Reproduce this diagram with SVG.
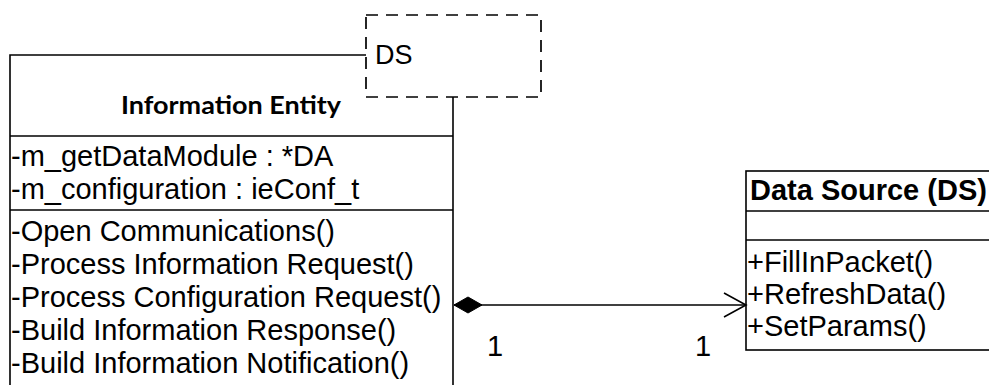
<svg xmlns="http://www.w3.org/2000/svg" width="989" height="385" viewBox="0 0 989 385">
  <style>
    .edge { fill: none; stroke: #000; stroke-width: 1.6; }
    .dash { fill: none; stroke: #000; stroke-width: 1.7; stroke-dasharray: 12 8; }
    .txt { font-family: "Liberation Sans", Arial, sans-serif; font-size: 29px; fill: #000; }
    .bold { font-weight: bold; }
    .cal { font-family: Lato, "Open Sans", sans-serif; font-weight: bold; font-size: 25px; fill: #000; }
  </style>
  <defs>
    <marker id="open-arrow" markerWidth="26" markerHeight="28" refX="23" refY="13" orient="auto" markerUnits="userSpaceOnUse">
      <path d="M1,1 L23,13 L1,25" fill="none" stroke="#000" stroke-width="1.6"/>
    </marker>
    <marker id="filled-diamond" markerWidth="32" markerHeight="20" refX="1" refY="9" orient="auto" markerUnits="userSpaceOnUse">
      <path d="M1,9 L15,1 L29,9 L15,17 Z" fill="#000" stroke="#000" stroke-width="1"/>
    </marker>
  </defs>

  <!-- Information Entity class (open at the bottom) -->
  <g id="information-entity">
    <path class="edge" d="M10,385 L10,55 L366,55"/>
    <path class="edge" d="M453,97 L453,385"/>
    <line class="edge" x1="10" y1="136" x2="453" y2="136"/>
    <line class="edge" x1="10" y1="210" x2="453" y2="210"/>
    <text class="cal" x="231" y="114" text-anchor="middle" textLength="220" lengthAdjust="spacingAndGlyphs">Information Entity</text>
    <text class="txt" x="11" y="166">-m_getDataModule : *DA</text>
    <text class="txt" x="11" y="199">-m_configuration : ieConf_t</text>
    <text class="txt" x="11" y="241">-Open Communications()</text>
    <text class="txt" x="11" y="274">-Process Information Request()</text>
    <text class="txt" x="11" y="307">-Process Configuration Request()</text>
    <text class="txt" x="11" y="340">-Build Information Response()</text>
    <text class="txt" x="11" y="373">-Build Information Notification()</text>
  </g>

  <!-- DS template parameter -->
  <g id="ds-parameter">
    <rect class="dash" x="366" y="15" width="175" height="82" fill="#fff"/>
    <text class="txt" x="375" y="64" style="font-size:27px">DS</text>
  </g>

  <!-- Data Source class -->
  <g id="data-source">
    <rect class="edge" x="746" y="171" width="260" height="179" fill="#fff"/>
    <line class="edge" x1="746" y1="211" x2="995" y2="211"/>
    <line class="edge" x1="746" y1="240" x2="995" y2="240"/>
    <text class="txt bold" x="750" y="200">Data Source (DS)</text>
    <text class="txt" x="747" y="272">+FillInPacket()</text>
    <text class="txt" x="747" y="304">+RefreshData()</text>
    <text class="txt" x="747" y="336">+SetParams()</text>
  </g>

  <!-- Composition: Information Entity owns one Data Source -->
  <g id="connectors">
    <line class="edge" x1="454" y1="305" x2="746" y2="305" marker-start="url(#filled-diamond)" marker-end="url(#open-arrow)"/>
    <text class="txt" x="487" y="356">1</text>
    <text class="txt" x="695" y="356">1</text>
  </g>
</svg>
